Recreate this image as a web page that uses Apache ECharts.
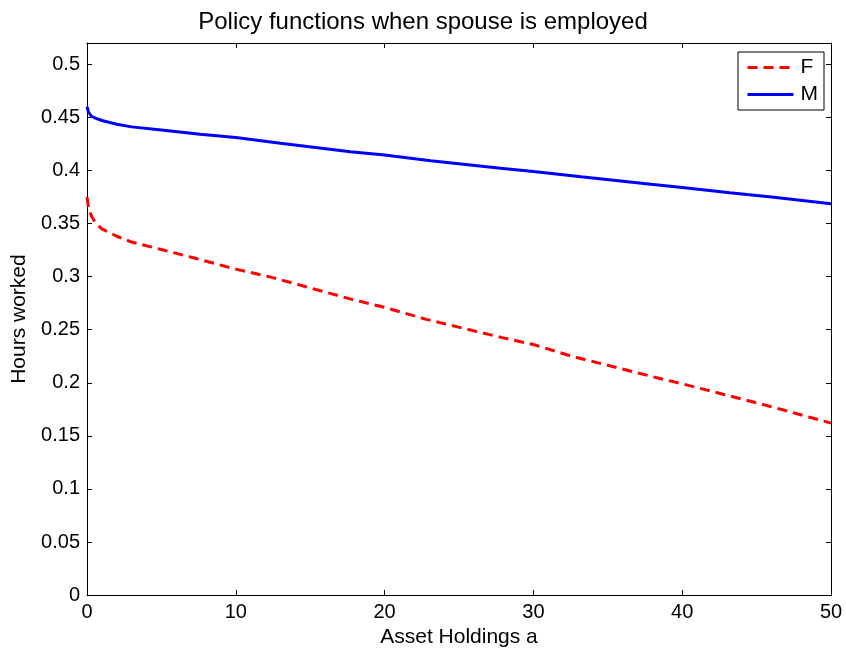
<!DOCTYPE html>
<html>
<head>
<meta charset="utf-8">
<script src="https://cdn.jsdelivr.net/npm/echarts@6/dist/echarts.min.js"></script>
<style>html,body{margin:0;padding:0;background:#fff;}#c{width:846px;height:653px;}</style>
</head>
<body>
<div id="c"></div>
<script>
var titleText = 'Policy functions when spouse is employed';
var xLabel = 'Asset Holdings a';
var yLabel = 'Hours worked';
var seriesNames = ['F', 'M'];
var xF = [0, 0.1, 0.3, 0.6, 1, 2, 3, 5, 7.2, 10, 12.5, 17.8, 20, 22.8, 27.9, 30, 32.5, 38.5, 40, 42.8, 46.1, 50];
var yF = [0.375, 0.365, 0.357, 0.350, 0.345, 0.338, 0.3325, 0.3255, 0.3175, 0.307, 0.299, 0.2785, 0.271, 0.2597, 0.2425, 0.236, 0.2253, 0.204, 0.199, 0.189, 0.177, 0.162];
var xM = [0, 0.1, 0.3, 0.6, 1, 2, 3, 5, 7.6, 10, 13, 17.7, 20, 23.1, 27.8, 30, 33.2, 37.9, 40, 43.2, 46, 50];
var yM = [0.46, 0.455, 0.451, 0.449, 0.447, 0.4435, 0.441, 0.438, 0.434, 0.431, 0.4255, 0.4175, 0.4145, 0.409, 0.402, 0.399, 0.394, 0.387, 0.384, 0.379, 0.375, 0.3685];
var xTicks = [0, 10, 20, 30, 40, 50];
var yTickStep = 0.05;

function pairs(xs, ys){ return xs.map(function(x,i){ return [x, ys[i]]; }); }
var font = 'Liberation Sans, Arial, sans-serif';
var chart = echarts.init(document.getElementById('c'), null, {renderer:'canvas'});
var axisBase = {
  axisLine:{show:true, onZero:false, lineStyle:{color:'#000', width:1}},
  axisTick:{show:true, inside:true, length:5, lineStyle:{color:'#000'}},
  splitLine:{show:false}
};
chart.setOption({
  animation:false,
  backgroundColor:'#fff',
  title:{text:titleText, left:'center', top:5, textStyle:{fontFamily:font, fontSize:24, fontWeight:'normal', color:'#000'}},
  grid:{left:87, right:15, top:43, bottom:56, containLabel:false},
  legend:{
    data:seriesNames, orient:'vertical', right:22, top:52,
    backgroundColor:'#fff', borderColor:'#000', borderWidth:1,
    padding:[5,6,5,8], itemGap:6, itemWidth:46, itemHeight:20,
    itemStyle:{opacity:0},
    lineStyle:{width:3},
    textStyle:{fontFamily:font, fontSize:21, color:'#000', padding:[0,0,0,2]}
  },
  xAxis:[
    Object.assign({}, axisBase, {type:'value', min:0, max:50, interval:10, position:'bottom',
      name:xLabel, nameLocation:'middle', nameGap:25,
      nameTextStyle:{fontFamily:font, fontSize:21, color:'#000'},
      axisLabel:{fontFamily:font, fontSize:20, color:'#000', margin:7,
        formatter:function(v){ return xTicks.indexOf(v)>=0 ? String(v) : ''; }}}),
    Object.assign({}, axisBase, {type:'value', min:0, max:50, interval:10, position:'top', axisLabel:{show:false}})
  ],
  yAxis:[
    Object.assign({}, axisBase, {type:'value', min:0, max:0.52, interval:yTickStep, position:'left',
      name:yLabel, nameLocation:'middle', nameGap:51,
      nameTextStyle:{fontFamily:font, fontSize:21, color:'#000'},
      axisLabel:{fontFamily:font, fontSize:20, color:'#000', margin:7, showMaxLabel:false,
        formatter:function(v){ return String(Math.round(v*100)/100); }}}),
    Object.assign({}, axisBase, {type:'value', min:0, max:0.52, interval:yTickStep, position:'right', axisLabel:{show:false}})
  ],
  series:[
    {name:seriesNames[0], type:'line', data:pairs(xF,yF), symbol:'none', smooth:false,
      lineStyle:{color:'#ff0000', width:3, type:[10,6]}, itemStyle:{color:'#ff0000'}},
    {name:seriesNames[1], type:'line', data:pairs(xM,yM), symbol:'none', smooth:false,
      lineStyle:{color:'#0000ff', width:3}, itemStyle:{color:'#0000ff'}}
  ]
});
</script>
</body>
</html>
